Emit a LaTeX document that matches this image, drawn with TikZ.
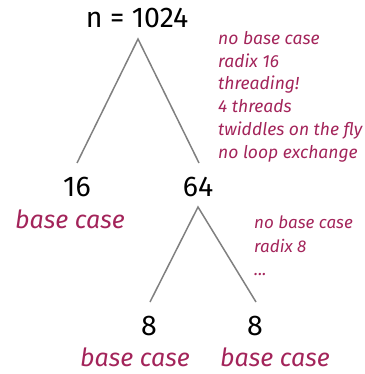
\documentclass[tikz,border=0pt]{standalone}
\usepackage{fontspec}
\setmainfont{Fira Sans}
\definecolor{note}{HTML}{A3245A}
\definecolor{edge}{HTML}{808080}
\begin{document}
\begin{tikzpicture}[x=1pt,y=-1pt,
  num/.style={inner sep=0pt,anchor=base,font=\fontsize{28.5}{30}\selectfont},
  lbl/.style={inner sep=0pt,anchor=base,text=note,font=\fontsize{25}{28}\selectfont\itshape},
  ann/.style={inner sep=0pt,anchor=north west,align=left,text=note},
  link/.style={draw=edge,line width=1.5pt}]
\useasboundingbox (0,0) rectangle (364,374);
\node[num] (root) at (137,28) {n = 1024};
\node[num] (a) at (77,196) {16};
\node[num] (b) at (198,196) {64};
\node[num] (c) at (149,335) {8};
\node[num] (d) at (255,335) {8};
\node[lbl] (la) at (70,228) {base case};
\node[lbl] (lc) at (135,366) {base case};
\node[lbl] (ld) at (275,366) {base case};
\coordinate (r0) at (138,39);
\coordinate (a0) at (77,163);
\coordinate (b1) at (199,163);
\coordinate (b0) at (198,207);
\coordinate (c0) at (150,302);
\coordinate (d0) at (256,302);
\draw[link] (a0) -- (r0) -- (b1);
\draw[link] (c0) -- (b0) -- (d0);
\node[ann,font=\fontsize{17.5}{22.8}\selectfont\itshape] (n1) at (218,31) {no base case\\radix 16\\threading!\\4 threads\\twiddles on the fly\\no loop exchange};
\node[ann,font=\fontsize{17}{23.5}\selectfont\itshape] (n2) at (254,216) {no base case\\radix 8\\...};
\end{tikzpicture}
\end{document}
